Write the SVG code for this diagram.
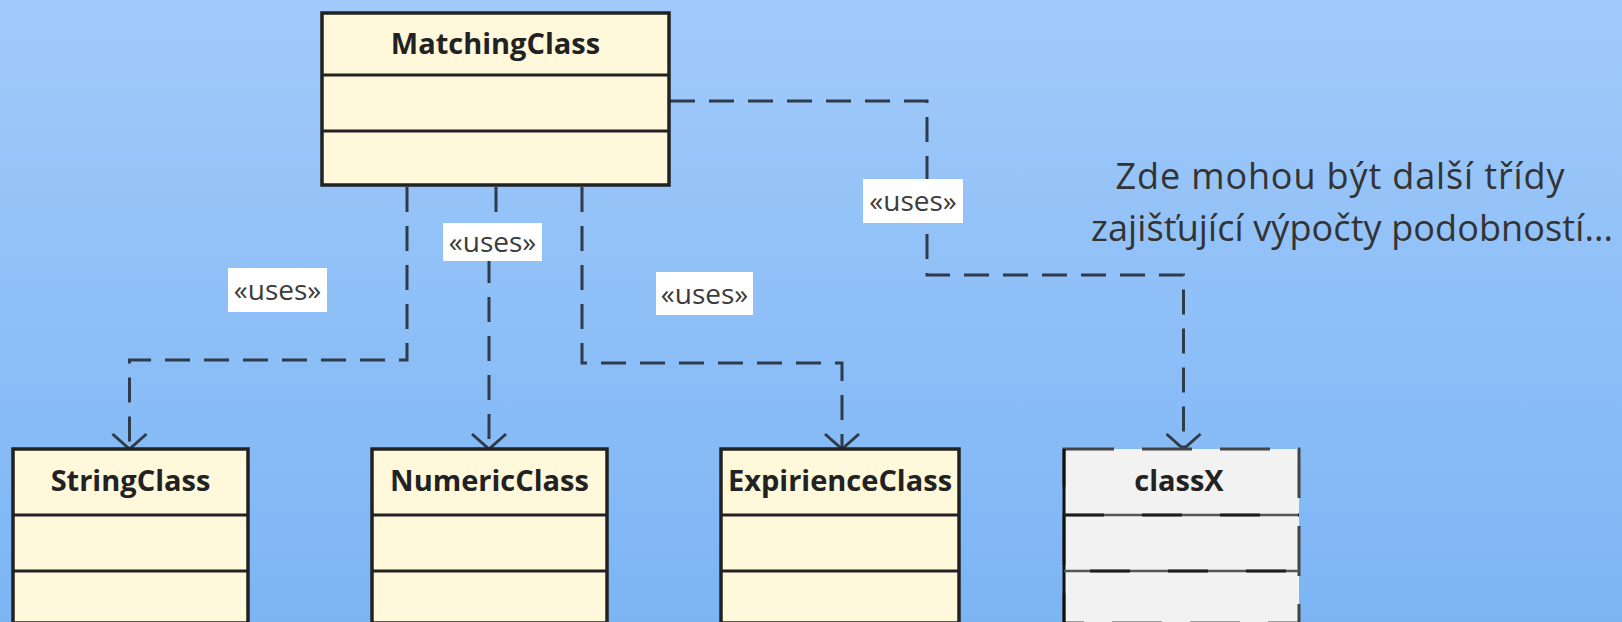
<svg xmlns="http://www.w3.org/2000/svg" width="1622" height="622" viewBox="0 0 1622 622">
  <defs>
    <linearGradient id="bg" x1="0" y1="0" x2="0" y2="1">
      <stop offset="0" stop-color="#a1cafa"/>
      <stop offset="1" stop-color="#7cb5f4"/>
    </linearGradient>
    <marker id="open" markerUnits="userSpaceOnUse" markerWidth="40" markerHeight="40" viewBox="-20 -20 40 40" refX="0" refY="0" orient="auto" overflow="visible">
      <path d="M -15,-17 L 0,0 L -15,17" fill="none" stroke="#2f3b4a" stroke-width="3" stroke-dasharray="none"/>
    </marker>
    <style>
      .box { fill: #fff8da; stroke: #222; stroke-width: 3.5; }
      .div { stroke: #222; stroke-width: 3; }
      .title { font-family: "Open Sans", "Liberation Sans", sans-serif; font-weight: bold; font-size: 29px; fill: #222; text-anchor: middle; }
      .conn { fill: none; stroke: #2f3b4a; stroke-width: 3; stroke-dasharray: 25 14; marker-end: url(#open); }
      .lbl { fill: #ffffff; }
      .lbltxt { font-family: "Open Sans", "Liberation Sans", sans-serif; font-size: 28px; fill: #3c3c3c; text-anchor: middle; }
      .note { font-family: "Open Sans", "Liberation Sans", sans-serif; font-size: 36px; fill: #333; text-anchor: middle; }
    </style>
  </defs>
  <rect x="0" y="0" width="1622" height="622" fill="url(#bg)"/>

  <g id="connectors">
    <path class="conn" d="M407,187 V360 H129.5 V449"/>
    <path class="conn" d="M496,187 V242 H489 V449"/>
    <path class="conn" d="M582,187 V363 H842 V449"/>
    <path class="conn" d="M670,101 H927 V275 H1183.5 V449"/>
    <g id="label-uses-1">
      <rect class="lbl" x="228" y="268" width="99" height="44"/>
      <text class="lbltxt" x="277.5" y="300">«uses»</text>
    </g>
    <g id="label-uses-2">
      <rect class="lbl" x="443" y="223" width="99" height="38"/>
      <text class="lbltxt" x="492.5" y="252">«uses»</text>
    </g>
    <g id="label-uses-3">
      <rect class="lbl" x="656" y="272" width="97" height="43"/>
      <text class="lbltxt" x="704.5" y="304">«uses»</text>
    </g>
    <g id="label-uses-4">
      <rect class="lbl" x="863" y="179" width="100" height="44"/>
      <text class="lbltxt" x="913" y="211">«uses»</text>
    </g>
  </g>

  <g id="MatchingClass">
    <rect class="box" x="322" y="13" width="347" height="172"/>
    <line class="div" x1="322" y1="75" x2="669" y2="75"/>
    <line class="div" x1="322" y1="131" x2="669" y2="131"/>
    <text class="title" x="495.5" y="54">MatchingClass</text>
  </g>

  <g id="StringClass">
    <rect class="box" x="13" y="449" width="235" height="174"/>
    <line class="div" x1="13" y1="515" x2="248" y2="515"/>
    <line class="div" x1="13" y1="571" x2="248" y2="571"/>
    <text class="title" x="130.5" y="491">StringClass</text>
  </g>

  <g id="NumericClass">
    <rect class="box" x="372" y="449" width="235" height="174"/>
    <line class="div" x1="372" y1="515" x2="607" y2="515"/>
    <line class="div" x1="372" y1="571" x2="607" y2="571"/>
    <text class="title" x="489.5" y="491">NumericClass</text>
  </g>

  <g id="ExpirienceClass">
    <rect class="box" x="721" y="449" width="238" height="174"/>
    <line class="div" x1="721" y1="515" x2="959" y2="515"/>
    <line class="div" x1="721" y1="571" x2="959" y2="571"/>
    <text class="title" x="840" y="491">ExpirienceClass</text>
  </g>

  <g id="classX">
    <rect x="1064" y="449" width="235" height="174" fill="#f2f2f2" stroke="#444" stroke-width="3" stroke-dasharray="50 28"/>
    <line x1="1064" y1="449" x2="1064" y2="622" stroke="#111" stroke-width="3"/>
    <line x1="1064" y1="515" x2="1299" y2="515" stroke="#555" stroke-width="2.5"/>
    <line x1="1064" y1="515" x2="1299" y2="515" stroke="#1e1e1e" stroke-width="3" stroke-dasharray="40 38"/>
    <line x1="1064" y1="571" x2="1299" y2="571" stroke="#555" stroke-width="2.5"/>
    <line x1="1090" y1="571" x2="1299" y2="571" stroke="#1e1e1e" stroke-width="3" stroke-dasharray="40 38"/>
    <text class="title" x="1179" y="491">classX</text>
  </g>

  <g id="note">
    <text class="note" x="1340" y="189" textLength="449" lengthAdjust="spacing">Zde mohou být další třídy</text>
    <text class="note" x="1352" y="241" textLength="522" lengthAdjust="spacing">zajišťující výpočty podobností...</text>
  </g>
</svg>
